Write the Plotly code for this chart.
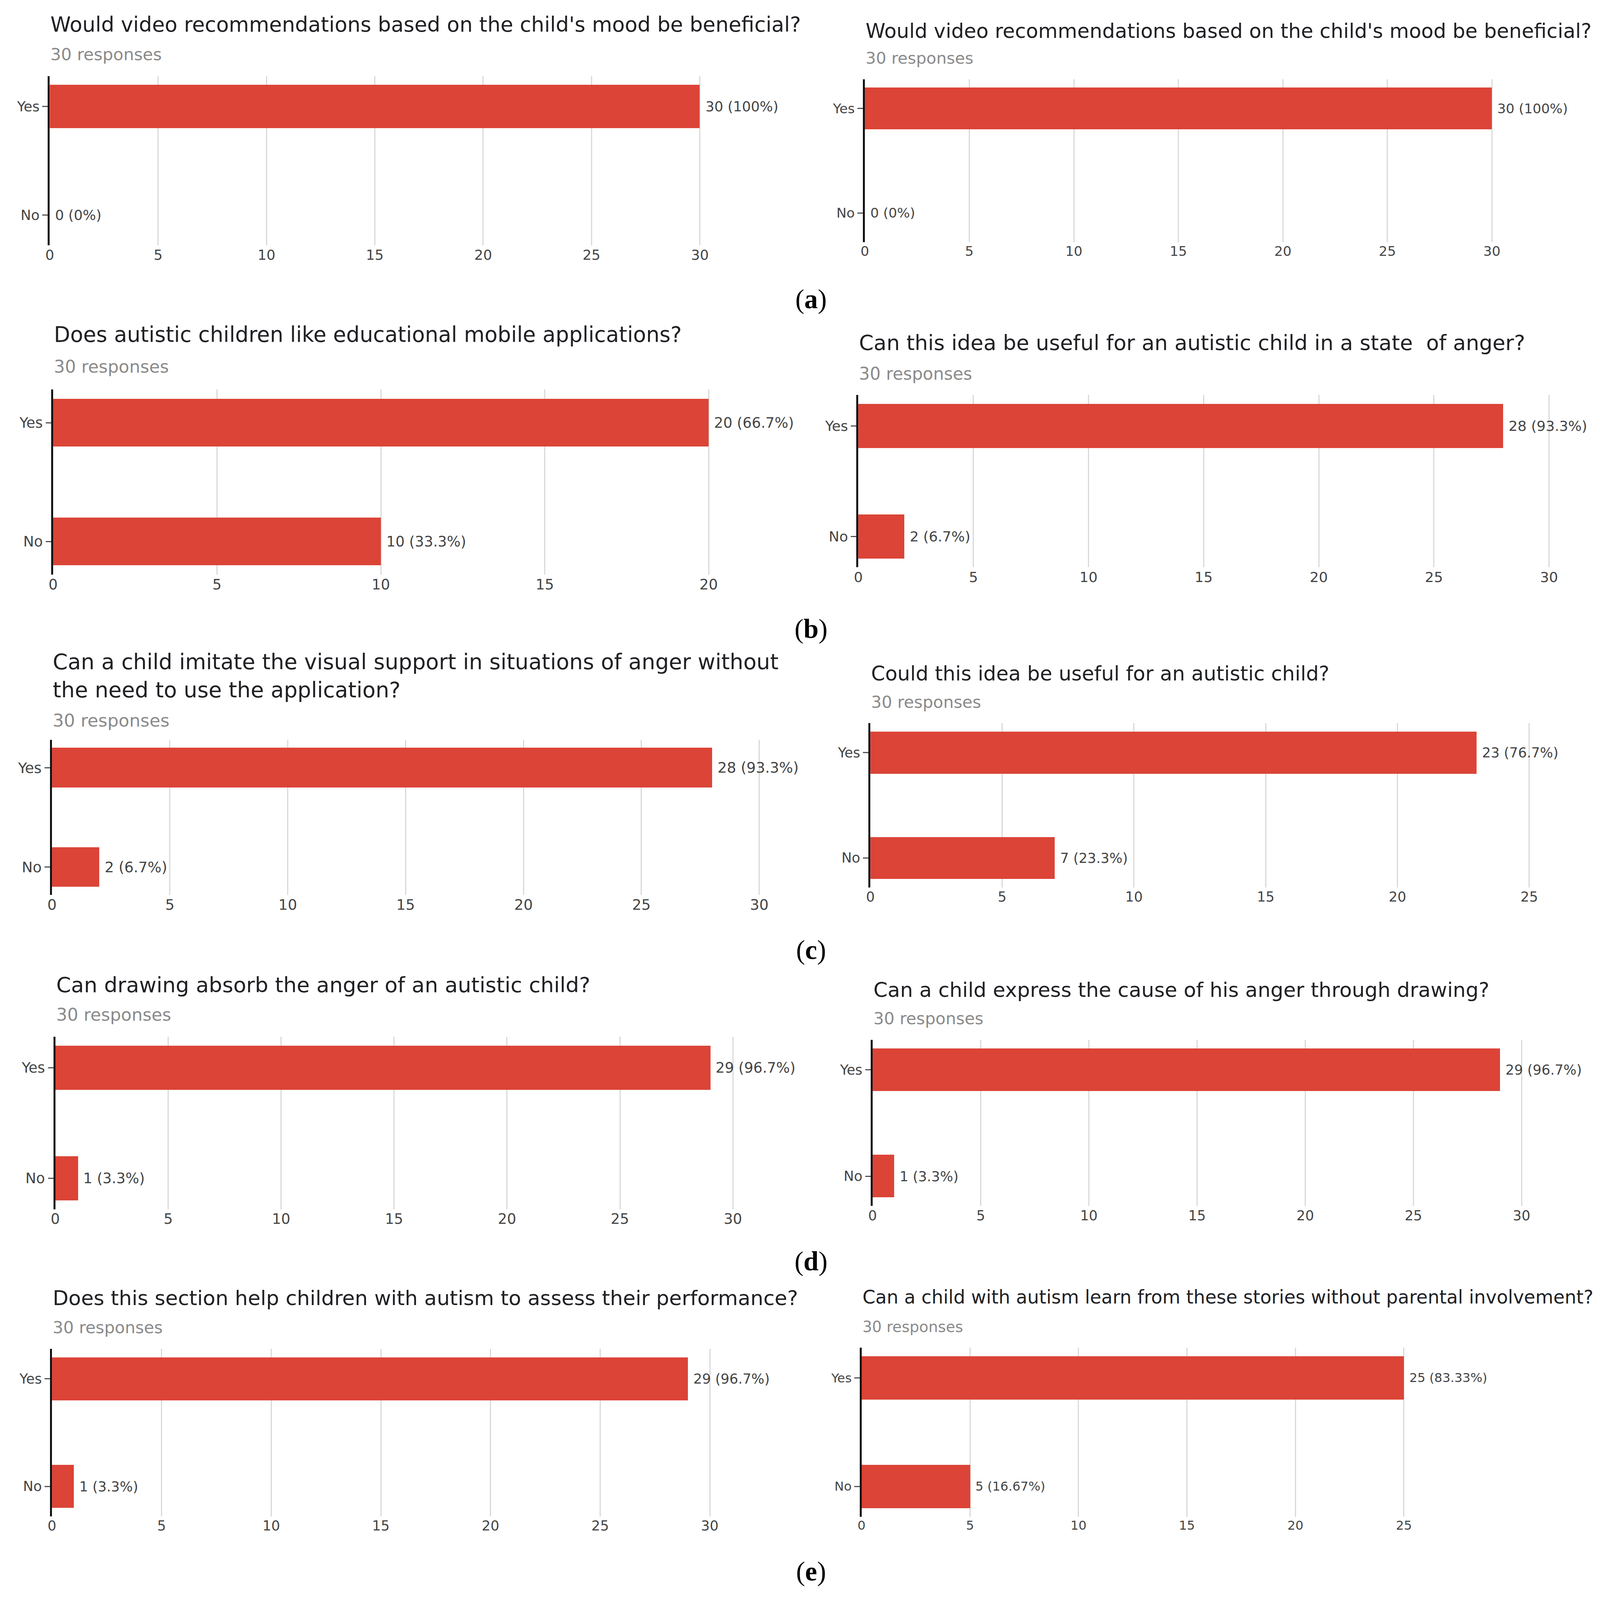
import plotly.graph_objects as go

# ---- data ----
questions = [
    "Would video recommendations based on the child's mood be beneficial?",
    "Would video recommendations based on the child's mood be beneficial?",
    "Does autistic children like educational mobile applications?",
    "Can this idea be useful for an autistic child in a state  of anger?",
    "Can a child imitate the visual support in situations of anger without<br>the need to use the application?",
    "Could this idea be useful for an autistic child?",
    "Can drawing absorb the anger of an autistic child?",
    "Can a child express the cause of his anger through drawing?",
    "Does this section help children with autism to assess their performance?",
    "Can a child with autism learn from these stories without parental involvement?",
]
responses = [30, 30, 30, 30, 30, 30, 30, 30, 30, 30]
categories = ["Yes", "No"]
yes_counts = [30, 30, 20, 28, 28, 23, 29, 29, 29, 25]
no_counts = [0, 0, 10, 2, 2, 7, 1, 1, 1, 5]
yes_pct = [100, 100, 66.7, 93.3, 93.3, 76.7, 96.7, 96.7, 96.7, 83.33]
no_pct = [0, 0, 33.3, 6.7, 6.7, 23.3, 3.3, 3.3, 3.3, 16.67]
x_tick_max = [30, 30, 20, 30, 30, 25, 30, 30, 30, 25]
row_tags = ["a", "b", "c", "d", "e"]

# ---- layout, in pixels of the reference at 1/3 scale (1450 x 1563) ----
RW, RH = 1450.3, 1563.0
# x0, px of tick max, right edge, yes centre, no centre, title y, subtitle y,
# label font size, title font size
panels = [
    (41, 632, 720, 104, 210, 24, 53, 12.4, 18.4),
    (782, 1352, 1440, 106, 208, 30, 57, 12.0, 17.8),
    (44, 640, 720, 413, 529, 327, 358, 12.8, 18.85),
    (776, 1404, 1440, 416, 524, 335, 365, 12.6, 18.65),
    (43, 686, 730, 750, 847, 660, 704, 13.0, 19.1),
    (787, 1386, 1440, 735, 838, 658, 686, 12.25, 17.85),
    (46, 662, 720, 1043, 1151, 962, 991, 12.8, 18.8),
    (789, 1379, 1440, 1045, 1149, 967, 995, 12.25, 18.05),
    (43, 641, 720, 1347, 1452, 1268, 1297, 12.25, 18.2),
    (779, 1272, 1360, 1346, 1452, 1267, 1296, 11.2, 16.4),
]
tag_y = [292, 614, 928, 1232, 1535]

RED = "#db4437"
FONT = "DejaVu Sans"
K = 2.88  # css px per reference px (page is about 4180 px wide)


def px(v):
    return v / RW


def py(v):
    return 1 - v / RH


fig = go.Figure()
annotations = []

for i, (x0, xt, xr, yy, yn, ty, sy, fs, ts) in enumerate(panels):
    n = "" if i == 0 else str(i + 1)
    d = yn - yy
    top, bottom = yy - 0.28 * d, yn + 0.28 * d
    unit = (xt - x0) / x_tick_max[i]
    rng = (xr - x0) / unit
    f = fs * K

    vals = [yes_counts[i], no_counts[i]]
    pcts = [yes_pct[i], no_pct[i]]
    fig.add_trace(go.Bar(
        x=vals, y=categories, orientation="h", width=0.4,
        marker=dict(color=RED, line=dict(width=0)),
        xaxis="x" + n, yaxis="y" + n, showlegend=False,
        hovertemplate="%{y}: %{x}<extra></extra>",
    ))

    fig.layout["xaxis" + n] = dict(
        domain=[px(x0), px(xr)], range=[0, rng], anchor="y" + n,
        dtick=5, tick0=0, showgrid=True, gridcolor="#d9d9d9", gridwidth=3,
        zeroline=False, showline=False, ticks="",
        tickfont=dict(family=FONT, size=f, color="#444"),
    )
    fig.layout["yaxis" + n] = dict(
        domain=[py(bottom), py(top)], anchor="x" + n, type="category",
        categoryorder="array", categoryarray=categories, range=[1.28, -0.28],
        showline=True, linecolor="#111", linewidth=5, showgrid=False,
        ticks="outside", ticklen=14, tickwidth=3, tickcolor="#555",
        tickfont=dict(family=FONT, size=f, color="#444"),
    )

    for v, p, c in zip(vals, pcts, categories):
        annotations.append(dict(
            x=v, y=c, xref="x" + n, yref="y" + n, text=f"{v} ({p:g}%)",
            showarrow=False, xanchor="left", yanchor="middle", xshift=12,
            font=dict(family=FONT, size=f, color="#444"),
        ))

    annotations.append(dict(
        x=px(x0), y=py(ty), xref="paper", yref="paper", text=questions[i],
        showarrow=False, xanchor="left", yanchor="middle", align="left",
        font=dict(family=FONT, size=ts * K, color="#202124"),
    ))
    annotations.append(dict(
        x=px(x0), y=py(sy), xref="paper", yref="paper",
        text=f"{responses[i]} responses",
        showarrow=False, xanchor="left", yanchor="middle",
        font=dict(family=FONT, size=f * 1.2, color="#8a8a8a"),
    ))

for tag, y in zip(row_tags, tag_y):
    annotations.append(dict(
        x=px(733), y=py(y), xref="paper", yref="paper", text=f"(<b>{tag}</b>)",
        showarrow=False, xanchor="center", yanchor="middle",
        font=dict(family="Liberation Serif", size=24 * K, color="black"),
    ))

fig.update_layout(
    autosize=True, margin=dict(l=0, r=0, t=0, b=0),
    paper_bgcolor="white", plot_bgcolor="white",
    annotations=annotations, bargap=0,
)

fig.write_html(
    "out.html", default_width="100vw", default_height="100vh",
    config={"displayModeBar": False},
    post_script="document.body.style.margin='0';"
                "document.documentElement.style.overflow='hidden';",
)
